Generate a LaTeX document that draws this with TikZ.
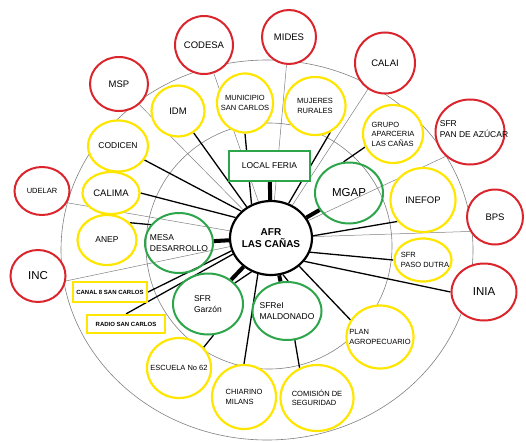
\documentclass[tikz,border=0pt]{standalone}
\usepackage{fontspec}
\setmainfont{Liberation Sans}
\usetikzlibrary{shapes.geometric,backgrounds}
\definecolor{afrred}{RGB}{218,37,45}
\definecolor{afryel}{RGB}{255,230,0}
\definecolor{afrgreen}{RGB}{45,165,75}

\begin{document}
\begin{tikzpicture}[x=1pt,y=-1pt,
  every label/.style={align=center},
  redorg/.style={ellipse,draw=afrred,line width=2pt,fill=white,inner sep=0pt},
  yelorg/.style={ellipse,draw=afryel,line width=2.2pt,fill=white,inner sep=0pt},
  greorg/.style={ellipse,draw=afrgreen,line width=2pt,inner sep=0pt},
  sz/.style 2 args={minimum width=#1,minimum height=#2},
  txtL/.style={font=\fontsize{11.5}{13}\selectfont},
  txtM/.style={font=\fontsize{9.5}{11}\selectfont},
  txtS/.style={font=\fontsize{8.5}{10.5}\selectfont},
  txtXS/.style={font=\fontsize{7.5}{9.5}\selectfont},
  txtT/.style={font=\bfseries\fontsize{6}{7}\selectfont},
  ring/.style={gray,line width=0.6pt},
  weak/.style={gray,line width=0.5pt},
  link/.style={line width=1.3pt},
  strong/.style={line width=4pt}]
  \useasboundingbox (0,0) rectangle (526,441);

  % centre
  \node[ellipse,draw,line width=2.2pt,fill=white,inner sep=0pt,sz={82}{74},
    label={[font=\bfseries\fontsize{10}{11.5}\selectfont]center:{AFR\\LAS CAÑAS}}] (afr) at (271,238) {};

  % outer ring
  \node[redorg,sz={58}{58},label={[txtM]center:CODESA}] (codesa) at (204,45) {};
  \node[redorg,sz={54}{54},label={[txtM]center:MIDES}] (mides) at (289,37) {};
  \node[redorg,sz={60}{61},label={[txtM]center:CALAI}] (calai) at (385,63) {};
  \node[redorg,sz={58}{54},label={[txtM]center:MSP}] (msp) at (119,84) {};
  \node[redorg,sz={69}{65},label={[txtS,align=left,xshift=4,yshift=3]center:{SFR\\PAN DE AZÚCAR}}] (pan) at (470,132) {};
  \node[redorg,sz={56}{55},label={[txtM]center:BPS}] (bps) at (495,217) {};
  \node[redorg,sz={65}{57},label={[txtL]center:INIA}] (inia) at (484,292) {};
  \node[redorg,sz={55}{52},label={[txtL]center:INC}] (inc) at (38,276) {};
  \node[redorg,sz={55}{48},label={[txtXS]center:UDELAR}] (udelar) at (42,191) {};

  % middle ring
  \node[yelorg,sz={53}{51},label={[txtM]center:IDM}] (idm) at (178,111) {};
  \node[yelorg,sz={56}{59},label={[txtXS]center:{MUNICIPIO\\SAN CARLOS}}] (municipio) at (245,103) {};
  \node[yelorg,sz={61}{58},label={[txtXS]center:{MUJERES\\RURALES}}] (mujeres) at (315,106) {};
  \node[yelorg,sz={60}{58},label={[txtXS,align=left]center:{GRUPO\\APARCERIA\\LAS CAÑAS}}] (grupo) at (393,134) {};
  \node[yelorg,sz={60}{51},label={[txtS]center:CODICEN}] (codicen) at (118,146) {};
  \node[yelorg,sz={57}{42},label={[txtM]center:CALIMA}] (calima) at (111,193) {};
  \node[yelorg,sz={59}{50},label={[txtS]center:ANEP}] (anep) at (107,240) {};
  \node[yelorg,sz={65}{64},label={[txtM]center:INEFOP}] (inefop) at (423,200) {};
  \node[yelorg,sz={57}{43},label={[txtXS,align=left,xshift=2]center:{SFR\\PASO DUTRA}}] (paso) at (423,260) {};
  \node[yelorg,sz={67}{63},label={[txtXS,align=left]center:{PLAN\\AGROPECUARIO}}] (plan) at (380,337) {};
  \node[yelorg,sz={73}{66},label={[txtXS,align=left]center:{COMISIÓN DE\\SEGURIDAD}}] (comision) at (317,398) {};
  \node[yelorg,sz={64}{64},label={[txtXS,align=left]center:{CHIARINO\\MILANS}}] (chiarino) at (244,397) {};
  \node[yelorg,sz={64}{60},label={[txtXS]center:ESCUELA No 62}] (escuela) at (179,368) {};
  \node[draw=afryel,line width=2.2pt,fill=white,inner sep=1pt,sz={74}{20},txtT] (canal) at (110,292) {CANAL 8 SAN CARLOS};
  \node[draw=afryel,line width=2.2pt,fill=white,inner sep=1pt,sz={78}{18},txtT] (radio) at (126,324) {RADIO SAN CARLOS};

  % inner ring
  \node[greorg,sz={68}{61},label={[txtL]center:MGAP}] (mgap) at (349,193) {};
  \node[greorg,sz={68}{60},label={[txtS,align=left]center:{MESA\\DESARROLLO}}] (mesa) at (179,243) {};
  \node[greorg,sz={70}{61},label={[txtS,align=left]center:{SFR\\Garzón}}] (garzon) at (208,304) {};
  \node[greorg,sz={69}{58},label={[txtS,align=left]center:{SFReI\\MALDONADO}}] (sfrei) at (287,311) {};
  \node[draw=afrgreen,line width=2pt,fill=white,sz={81}{30},txtS] (feria) at (269.5,166) {LOCAL FERIA};

  \begin{scope}[on background layer]
    \draw[ring] (267,250) ellipse [x radius=206, y radius=190];
    \draw[ring] (269,246) circle [radius=123];
    \draw[weak] (afr) -- (codesa);
    \draw[weak] (afr) -- (mides);
    \draw[weak] (afr) -- (calai);
    \draw[weak] (afr) -- (msp);
    \draw[weak] (afr) -- (pan.225);
    \draw[weak] (afr) -- (bps.210);
    \draw[weak] (afr) -- (inc.350);
    \draw[weak] (afr) -- (udelar.335);

    \draw[link] (idm) -- (afr.128);
    \draw[link] (codicen) -- (afr.138);
    \draw[link] (calima.east) -- (afr.150);
    \draw[link] (anep.37) -- (mesa.147);
    \draw[link] (municipio.south) -- (afr.120);
    \draw[link] (mujeres.300) -- (afr.63);
    \draw[link] (grupo.205) -- (mgap.100);
    \draw[link] (afr.3) -- (inefop.220);
    \draw[link] (afr.340) -- (paso.west);
    \draw[link] (afr.325) -- (inia.west);
    \draw[link] (afr.315) -- (plan.150);
    \draw[link] (afr.250) -- (chiarino.north);
    \draw[link] (sfrei.285) -- (comision.120);
    \draw[link] (garzon.280) -- (escuela.40);
    \draw[link] (canal.east) -- (afr.198);
    \draw[link] (radio.north) -- (afr.203);
    \draw[link] (afr.240) -- (garzon.38);
    \draw[link] (afr.288) -- (sfrei.88);

    \draw[strong] (feria) -- (afr);
    \draw[strong] (mgap) -- (afr);
    \draw[strong] (mesa) -- (afr);
    \draw[strong] (garzon) -- (afr);
    \draw[strong] (sfrei) -- (afr);
  \end{scope}
\end{tikzpicture}
\end{document}
